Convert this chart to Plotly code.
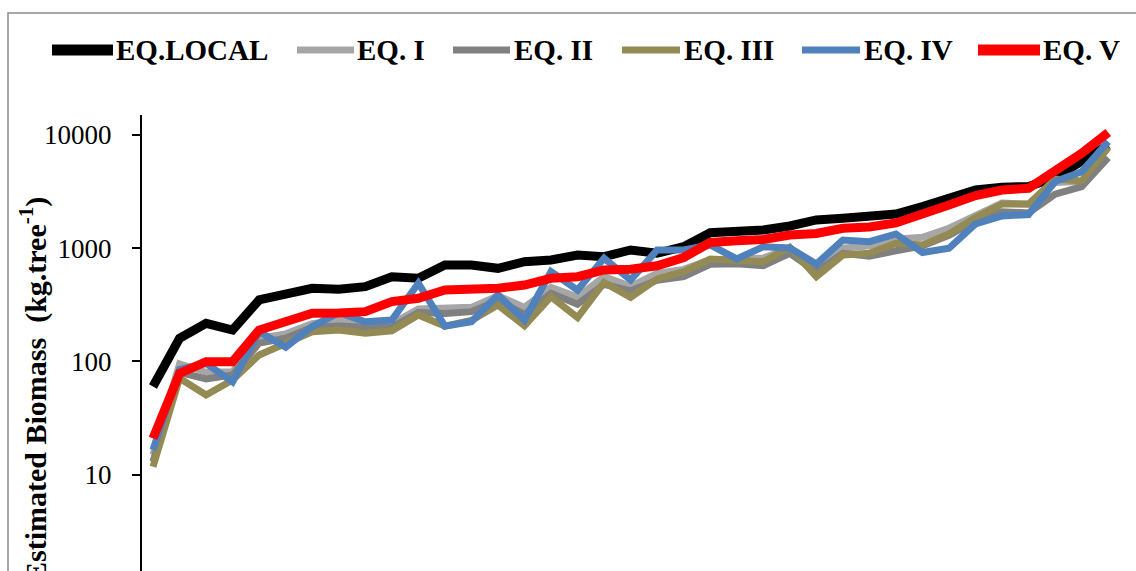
import plotly.graph_objects as go

# ---------------- data ----------------
trees = list(range(1, 38))
series_names = ["EQ.LOCAL", "EQ. I", "EQ. II", "EQ. III", "EQ. IV", "EQ. V"]
eq_local = [60, 160, 217, 189, 349, 386, 442, 433, 457, 560, 542, 711, 711, 664, 760, 787, 871, 841, 964,
            902, 1031, 1371, 1400, 1448, 1571, 1775, 1837, 1905, 2005, 2335, 2775, 3265, 3450, 3510, 4215, 5775, 8160]
eq_i = [15, 95, 80, 81, 160, 175, 215, 230, 220, 215, 290, 290, 300, 380, 300, 450, 370, 560, 460,
        600, 650, 790, 800, 820, 1000, 680, 1000, 1050, 1200, 1250, 1500, 1900, 2500, 2450, 3800, 3900, 7800]
eq_ii = [13, 80, 70, 76, 145, 160, 200, 205, 200, 200, 270, 265, 275, 345, 260, 400, 320, 480, 420,
         520, 560, 720, 730, 700, 900, 620, 900, 850, 950, 1050, 1300, 1750, 2100, 2050, 3000, 3500, 6300]
eq_iii = [11.7, 71, 50.5, 68.5, 114, 144, 183, 189, 177, 186, 257, 205, 230, 315, 206, 373, 244, 498, 367,
          535, 620, 803, 787, 760, 1015, 560, 871, 902, 1105, 1067, 1335, 1866, 2457, 2457, 4086, 3925, 7760]
eq_iv = [16.5, 85, 96, 66, 183, 133, 203, 270, 224, 232, 490, 205, 224, 386, 232, 620, 427, 815, 524,
         964, 964, 1067, 803, 1031, 1004, 725, 1181, 1141, 1335, 916, 998, 1636, 1925, 1984, 3883, 4741, 8730]
eq_v = [20.9, 78.5, 99.4, 99.4, 189, 224, 266, 268, 275, 337, 361, 427, 433, 442, 473, 542, 560, 642, 651,
        699, 827, 1123, 1162, 1194, 1309, 1349, 1500, 1540, 1670, 1964, 2408, 2922, 3265, 3384, 4741, 6890, 10520]
y_ticks = [10, 100, 1000, 10000]
y_title = "Estimated Biomass&nbsp;&nbsp;(kg.tree<sup>-1</sup>)"

# ---------------- style ----------------
colors = ["#000000", "#A6A6A6", "#808080", "#948A54", "#4F81BD", "#FF0000"]
widths = [9, 7, 7, 7, 7, 9]
legend_widths = [11, 7, 7, 7, 7, 11]
FONT = "Liberation Serif"

W, H = 1136, 571
L, R, T, B = 142, 14, 115, 0
PW, PH = W - L - R, H - T - B


def px_x(px):
    return (px - L) / PW


def px_y(py):
    return (H - B - py) / PH


fig = go.Figure()
all_series = [eq_local, eq_i, eq_ii, eq_iii, eq_iv, eq_v]
for name, vals, c, w in zip(series_names, all_series, colors, widths):
    fig.add_trace(go.Scatter(x=trees, y=vals, mode="lines", name=name,
                             line=dict(color=c, width=w), showlegend=False))

shapes = []
annotations = []
# manual legend (symbol line + bold label)
leg_lines = [(52, 113), (297, 354), (453, 510), (622, 680), (802, 860), (978, 1040)]
leg_text_x = [115, 356, 513, 683, 863, 1042]
leg_y = 50
for (x0, x1), tx, name, c, w in zip(leg_lines, leg_text_x, series_names, colors, legend_widths):
    shapes.append(dict(type="line", xref="paper", yref="paper",
                       x0=px_x(x0), x1=px_x(x1), y0=px_y(leg_y), y1=px_y(leg_y),
                       line=dict(color=c, width=w)))
    annotations.append(dict(text=f"<b>{name}</b>", xref="paper", yref="paper",
                            x=px_x(tx - 1), y=px_y(leg_y), xanchor="left", yanchor="middle",
                            showarrow=False, font=dict(family=FONT, size=29, color="black")))

# outer chart border
shapes.append(dict(type="rect", xref="paper", yref="paper", layer="below",
                   x0=px_x(8), x1=px_x(1145), y0=px_y(580), y1=px_y(13),
                   line=dict(color="#8C8C8C", width=1.5), fillcolor="rgba(0,0,0,0)"))

# y axis title
annotations.append(dict(text=f"<b>{y_title}</b>", xref="paper", yref="paper",
                        x=px_x(33), y=px_y(390), xanchor="center", yanchor="middle",
                        textangle=-90, showarrow=False,
                        font=dict(family=FONT, size=30, color="black")))

fig.update_layout(
    width=W, height=H,
    margin=dict(l=L, r=R, t=T, b=B, pad=0),
    paper_bgcolor="white", plot_bgcolor="white",
    showlegend=False,
    shapes=shapes, annotations=annotations,
    xaxis=dict(range=[0.585, 37.52], showgrid=False, zeroline=False, showline=False,
               showticklabels=False, ticks=""),
    yaxis=dict(type="log", range=[0.148, 4.1767], showgrid=False, zeroline=False,
               showline=True, linecolor="black", linewidth=2,
               ticks="outside", ticklen=8, tickwidth=1.5, tickcolor="black",
               tickvals=y_ticks, ticktext=[str(v) for v in y_ticks],
               ticklabelstandoff=15,
               tickfont=dict(family=FONT, size=27, color="black")),
)

fig.write_html("out.html", config={"displayModeBar": False},
               post_script="document.body.style.margin='0';document.body.style.overflow='hidden';")
